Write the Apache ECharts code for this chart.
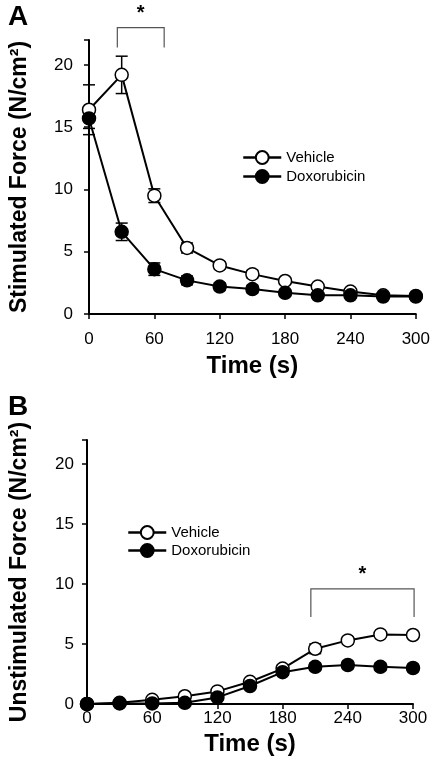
<!DOCTYPE html>
<html><head><meta charset="utf-8">
<script src="https://cdn.jsdelivr.net/npm/echarts@6/dist/echarts.min.js"></script>
<style>html,body{margin:0;padding:0;background:#fff}#c{width:433px;height:766px}</style>
</head><body><div id="c"></div>
<script>
const times = [0,30,60,90,120,150,180,210,240,270,300];
const xTicks = [0,60,120,180,240,300];
const yTicks = [0,5,10,15,20];
// Panel A: stimulated force
const stimVehicle = [16.4,19.2,9.5,5.3,3.9,3.2,2.65,2.2,1.8,1.5,1.45];
const stimVehicleErr = [2.0,1.5,0.55,0.4,0.3,0.3,0.25,0.2,0.2,0.15,0.15];
const stimDox = [15.7,6.6,3.6,2.7,2.2,2.0,1.7,1.5,1.5,1.4,1.4];
const stimDoxErr = [0.8,0.7,0.5,0.35,0.3,0.3,0.25,0.2,0.2,0.15,0.15];
// Panel B: unstimulated force
const unstimVehicle = [0,0.1,0.35,0.65,1.05,1.85,2.95,4.6,5.3,5.8,5.75];
const unstimVehicleErr = [0.05,0.1,0.1,0.1,0.15,0.2,0.3,0.4,0.3,0.2,0.2];
const unstimDox = [0,0.05,0.05,0.1,0.55,1.5,2.65,3.1,3.25,3.1,3.0];
const unstimDoxErr = [0.05,0.05,0.05,0.1,0.15,0.2,0.25,0.3,0.3,0.3,0.3];
// significance brackets [xStart, xEnd, yLow, yHigh]
const bracketA = [26, 69, 21.4, 23.0];
const bracketB = [206, 301, 7.25, 9.6];

const pairs = (vals) => times.map((t,i)=>[t, vals[i]]);
const errs = (vals, e) => times.map((t,i)=>[t, vals[i], e[i]]);

function errRender(params, api){
  const x=api.value(0), y=api.value(1), e=api.value(2);
  const hi=api.coord([x,y+e]), lo=api.coord([x,y-e]);
  const w=6, st={stroke:'#000',lineWidth:1.5};
  return {type:'group', children:[
    {type:'line', shape:{x1:hi[0],y1:hi[1],x2:lo[0],y2:lo[1]}, style:st},
    {type:'line', shape:{x1:hi[0]-w,y1:hi[1],x2:hi[0]+w,y2:hi[1]}, style:st},
    {type:'line', shape:{x1:lo[0]-w,y1:lo[1],x2:lo[0]+w,y2:lo[1]}, style:st}
  ]};
}
function bracketRender(params, api){
  const x1=api.value(0), x2=api.value(1), yl=api.value(2), yh=api.value(3);
  const a=api.coord([x1,yl]), b=api.coord([x1,yh]), c=api.coord([x2,yh]), d=api.coord([x2,yl]);
  return {type:'group', children:[
    {type:'polyline', shape:{points:[a,b,c,d]}, style:{stroke:'#555',lineWidth:1.2,fill:null}},
    {type:'text', x:(b[0]+c[0])/2, y:b[1]-4, style:{text:'*', font:'bold 20px "Liberation Sans", Arial, sans-serif', fill:'#000', align:'center', verticalAlign:'bottom'}}
  ]};
}

const font = '"Liberation Sans", Arial, sans-serif';
function xAx(idx, margin, gap){
  return {type:'value', gridIndex:idx, min:0, max:300, interval:60,
    axisLine:{lineStyle:{color:'#000',width:2}},
    axisTick:{show:true, length:5, lineStyle:{color:'#000',width:1.5}},
    axisLabel:{color:'#000', fontSize:17, fontFamily:font, margin:margin},
    splitLine:{show:false},
    name:'Time (s)', nameLocation:'middle', nameGap:gap,
    nameTextStyle:{color:'#000', fontSize:24, fontWeight:'bold', fontFamily:font}};
}
function yAx(idx, name, margin, gap){
  return {type:'value', gridIndex:idx, min:0, max:22, interval:5,
    axisLine:{show:true, lineStyle:{color:'#000',width:2}},
    axisTick:{show:true, length:5, lineStyle:{color:'#000',width:1.5}},
    axisLabel:{color:'#000', fontSize:17, fontFamily:font, margin:margin,
      formatter:(v)=> yTicks.includes(v) ? String(v) : ''},
    splitLine:{show:false},
    name:name, nameLocation:'middle', nameGap:gap,
    nameTextStyle:{color:'#000', fontSize:23, fontWeight:'bold', fontFamily:font}};
}
function lineSeries(name, data, xi, fillColor, z){
  return {type:'line', name:name, data:data, xAxisIndex:xi, yAxisIndex:xi,
    symbol:'circle', symbolSize:13, z:z,
    lineStyle:{color:'#000', width:2},
    itemStyle:{color:fillColor, borderColor:'#000', borderWidth:1.5},
    emphasis:{disabled:true}};
}
function errSeries(data, xi, z){
  return {type:'custom', data:data, xAxisIndex:xi, yAxisIndex:xi, renderItem:errRender,
    encode:{x:0,y:1}, z:z, silent:true};
}
const legendBase = {data:['Vehicle','Doxorubicin'], orient:'vertical', itemWidth:38, itemHeight:16,
  textStyle:{fontSize:15, color:'#000', fontFamily:font}, selectedMode:false,
  lineStyle:{width:2.5, color:'#000'}};

const chart = echarts.init(document.getElementById('c'), null, {renderer:'canvas'});
chart.setOption({
  animation:false,
  backgroundColor:'#fff',
  title:[
    {text:'A', left:3, top:-2, textStyle:{fontSize:28, fontWeight:'bold', color:'#000', fontFamily:font}},
    {text:'B', left:3, top:388, textStyle:{fontSize:28, fontWeight:'bold', color:'#000', fontFamily:font}}
  ],
  grid:[
    {left:88, right:16, top:40, bottom:452},
    {left:83, right:20, top:440, bottom:62}
  ],
  xAxis:[xAx(0,17,40), xAx(1,6,28)],
  yAxis:[yAx(0,'Stimulated Force (N/cm²)',16,58), yAx(1,'Unstimulated Force (N/cm²)',13,56)],
  legend:[
    Object.assign({}, legendBase, {left:237, top:145, itemGap:4}),
    Object.assign({}, legendBase, {left:122, top:520, itemGap:3})
  ],
  series:[
    errSeries(errs(stimVehicle, stimVehicleErr),0,2),
    errSeries(errs(stimDox, stimDoxErr),0,2),
    lineSeries('Vehicle', pairs(stimVehicle),0,'#fff',3),
    lineSeries('Doxorubicin', pairs(stimDox),0,'#000',4),
    {type:'custom', data:[bracketA], xAxisIndex:0, yAxisIndex:0, renderItem:bracketRender, clip:false, silent:true},
    errSeries(errs(unstimVehicle, unstimVehicleErr),1,2),
    errSeries(errs(unstimDox, unstimDoxErr),1,2),
    lineSeries('Vehicle', pairs(unstimVehicle),1,'#fff',3),
    lineSeries('Doxorubicin', pairs(unstimDox),1,'#000',4),
    {type:'custom', data:[bracketB], xAxisIndex:1, yAxisIndex:1, renderItem:bracketRender, clip:false, silent:true}
  ]
});
</script></body></html>
